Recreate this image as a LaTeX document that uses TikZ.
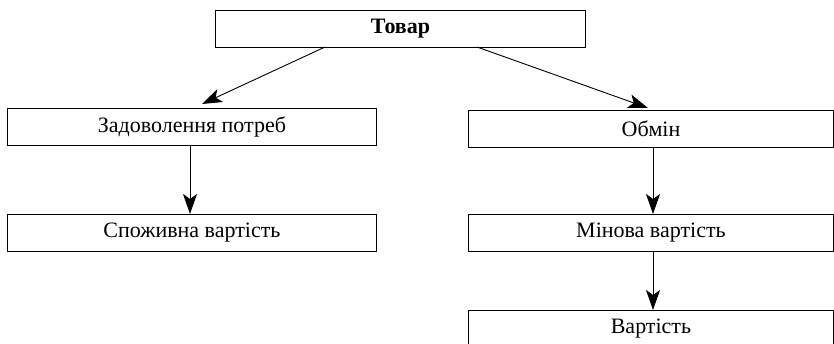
\documentclass[tikz,border=0pt]{standalone}
\usepackage{fontspec}
\setmainfont{Liberation Serif}
\usetikzlibrary{arrows.meta}
\begin{document}
\begin{tikzpicture}[x=1pt,y=-1pt,
  box/.style={draw,line width=0.9pt,minimum height=37pt,inner sep=0pt,font=\fontsize{22}{24}\selectfont,anchor=north west},
  arr/.style={line width=0.9pt,-{Stealth[length=20pt,width=14pt,inset=5pt]}}]
\useasboundingbox (0,0) rectangle (834,343);
\clip (0,0) rectangle (834,343);
\node[box,minimum width=370pt,font=\fontsize{22}{24}\selectfont\bfseries] (t) at (215,10) {Товар};
\node[box,minimum width=369pt] (z) at (7,108) {Задоволення потреб};
\node[box,minimum width=369pt] (s) at (7,214) {Споживна вартість};
\node[box,minimum width=365pt] (o) at (468,110) {Обмін};
\node[box,minimum width=365pt] (m) at (468,214) {Мінова вартість};
\node[box,minimum width=365pt] (v) at (468,310) {Вартість};
\coordinate (t1) at (325,47);
\coordinate (t2) at (477,47);
\coordinate (z1) at (202,104);
\coordinate (o1) at (648,108);
\draw[arr] (t1) -- (z1);
\draw[arr] (t2) -- (o1);
\draw[arr] (z.south -| 190,0) -- (s.north -| 190,0);
\draw[arr] (o.south -| 653,0) -- (m.north -| 653,0);
\draw[arr] (m.south -| 653,0) -- (v.north -| 653,0);
\end{tikzpicture}
\end{document}
